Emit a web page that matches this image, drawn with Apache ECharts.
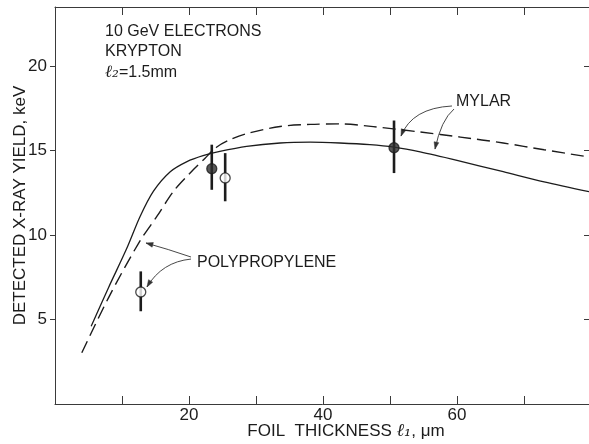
<!DOCTYPE html>
<html>
<head>
<meta charset="utf-8">
<script src="https://cdn.jsdelivr.net/npm/echarts@6/dist/echarts.min.js"></script>
<style>
  html, body { margin: 0; padding: 0; background: #ffffff; }
  #chart { width: 589px; height: 444px; }
</style>
</head>
<body>
<div id="chart"></div>
<script>
// Theoretical curves: detected X-ray yield (keV) vs foil thickness l1 (um)
const mylarCurveX = [5.4, 8.0, 10.7, 12.7, 14.7, 17.2, 19.7, 22.1, 24.6, 28.6, 33.6, 38.1, 42.5, 47.0, 50.6, 54.5, 60.0, 66.9, 73.0, 79.7];
const mylarCurveY = [4.6, 6.9, 9.2, 11.1, 12.6, 13.75, 14.35, 14.7, 14.95, 15.25, 15.45, 15.5, 15.45, 15.35, 15.2, 14.92, 14.42, 13.75, 13.15, 12.57];

const polyCurveX = [4.0, 8.0, 12.6, 15.2, 17.7, 20.1, 22.4, 24.1, 26.1, 28.6, 33.6, 38.1, 42.5, 47.5, 54.5, 60.5, 66.9, 73.0, 79.7];
const polyCurveY = [3.03, 6.3, 9.6, 11.1, 12.6, 13.65, 14.55, 15.2, 15.64, 16.0, 16.43, 16.55, 16.58, 16.42, 16.1, 15.8, 15.45, 15.05, 14.62];

// Measured points with error bars
const mylarPointX = [23.4, 50.6];
const mylarPointY = [13.93, 15.17];
const mylarErrLow = [12.68, 13.67];
const mylarErrHigh = [15.35, 16.78];

const polyPointX = [12.8, 25.4];
const polyPointY = [6.63, 13.38];
const polyErrLow = [5.49, 12.0];
const polyErrHigh = [7.85, 14.85];

// Axis ticks and labels
const xTickValues = [10, 20, 30, 40, 50, 60, 70];
const xLabelValues = [20, 40, 60];
const yTickValues = [5, 10, 15, 20];

const FONT = 'Liberation Sans, Arial, sans-serif';
const INK = '#1c1c1c';

const zip = (xs, ys) => xs.map((x, i) => [x, ys[i]]);
const errRows = (xs, lo, hi) => xs.map((x, i) => [x, lo[i], hi[i]]);

function renderErrorBar(params, api) {
  const x = api.value(0);
  const p1 = api.coord([x, api.value(1)]);
  const p2 = api.coord([x, api.value(2)]);
  return {
    type: 'line',
    shape: { x1: p1[0], y1: p1[1], x2: p2[0], y2: p2[1] },
    style: { stroke: INK, lineWidth: 2.6 }
  };
}

const chart = echarts.init(document.getElementById('chart'), null, { renderer: 'canvas' });

const axisLine = { show: true, onZero: false, lineStyle: { color: '#3a3a3a', width: 1 } };
const tickStyle = { color: '#3a3a3a', width: 1 };

const option = {
  backgroundColor: '#ffffff',
  animation: false,
  grid: { left: 55, top: 7, width: 536, height: 397, containLabel: false, outerBoundsMode: 'none' },
  xAxis: [
    {
      type: 'value', min: 0, max: 80, interval: 10, position: 'bottom',
      axisLine: axisLine,
      axisTick: { show: true, inside: true, length: 8, customValues: xTickValues, lineStyle: tickStyle },
      axisLabel: {
        customValues: xLabelValues,
        formatter: v => (xLabelValues.includes(v) ? String(v) : ''),
        fontSize: 17, color: INK, fontFamily: FONT, margin: 3
      },
      splitLine: { show: false },
      name: 'FOIL  THICKNESS {l|ℓ₁}, μm',
      nameLocation: 'middle',
      nameGap: 18,
      nameMoveOverlap: false,
      nameTextStyle: {
        fontSize: 17, color: INK, fontFamily: FONT, padding: [0, 0, 0, 46],
        rich: { l: { fontSize: 18, fontFamily: 'DejaVu Serif', fontStyle: 'italic', color: INK } }
      }
    },
    {
      type: 'value', min: 0, max: 80, interval: 10, position: 'top',
      axisLine: axisLine,
      axisTick: { show: true, inside: true, length: 8, customValues: xTickValues, lineStyle: tickStyle },
      axisLabel: { show: false },
      splitLine: { show: false }
    }
  ],
  yAxis: [
    {
      type: 'value', min: 0, max: 23.5, interval: 5, position: 'left',
      axisLine: axisLine,
      axisTick: { show: true, inside: false, length: 5, customValues: yTickValues, lineStyle: tickStyle },
      axisLabel: {
        customValues: yTickValues,
        formatter: v => (yTickValues.includes(v) ? String(v) : ''),
        fontSize: 17, color: INK, fontFamily: FONT, margin: 8
      },
      splitLine: { show: false },
      name: 'DETECTED X-RAY YIELD, keV',
      nameLocation: 'middle',
      nameRotate: 90,
      nameGap: 26,
      nameMoveOverlap: false,
      nameTextStyle: { fontSize: 17, color: INK, fontFamily: FONT }
    },
    {
      type: 'value', min: 0, max: 23.5, interval: 5, position: 'right',
      axisLine: axisLine,
      axisTick: { show: true, inside: true, length: 7, customValues: yTickValues, lineStyle: tickStyle },
      axisLabel: { show: false },
      splitLine: { show: false }
    }
  ],
  series: [
    {
      name: 'Mylar (theory)', type: 'line', xAxisIndex: 0, yAxisIndex: 0,
      data: zip(mylarCurveX, mylarCurveY), smooth: 0.3, showSymbol: false,
      lineStyle: { color: INK, width: 1.3, type: 'solid' }, z: 2
    },
    {
      name: 'Polypropylene (theory)', type: 'line', xAxisIndex: 0, yAxisIndex: 0,
      data: zip(polyCurveX, polyCurveY), smooth: 0.3, showSymbol: false,
      lineStyle: { color: INK, width: 1.4, type: [13, 6] }, z: 2
    },
    {
      name: 'Mylar error', type: 'custom', xAxisIndex: 0, yAxisIndex: 0,
      data: errRows(mylarPointX, mylarErrLow, mylarErrHigh),
      encode: { x: 0, y: [1, 2] }, renderItem: renderErrorBar, z: 3
    },
    {
      name: 'Polypropylene error', type: 'custom', xAxisIndex: 0, yAxisIndex: 0,
      data: errRows(polyPointX, polyErrLow, polyErrHigh),
      encode: { x: 0, y: [1, 2] }, renderItem: renderErrorBar, z: 3
    },
    {
      name: 'Mylar data', type: 'scatter', xAxisIndex: 0, yAxisIndex: 0,
      data: zip(mylarPointX, mylarPointY), symbol: 'circle', symbolSize: 10,
      itemStyle: { color: '#2e2e2e', borderColor: INK, borderWidth: 1.3 }, z: 4
    },
    {
      name: 'Polypropylene data', type: 'scatter', xAxisIndex: 0, yAxisIndex: 0,
      data: zip(polyPointX, polyPointY), symbol: 'circle', symbolSize: 10,
      itemStyle: { color: '#ffffff', borderColor: INK, borderWidth: 1.3 }, z: 4
    }
  ]
};

chart.setOption(option);

// Labels and pointer arrows, placed in data units
const labels = [
  { text: 'MYLAR', at: [59.85, 17.88] },
  { text: 'POLYPROPYLENE', at: [21.19, 8.35] }
];
const arrows = [
  { from: [59.25, 17.64], ctrl: [53.28, 17.52], to: [51.64, 15.86] },
  { from: [59.55, 17.46], ctrl: [57.61, 16.81], to: [56.72, 15.09] },
  { from: [20.30, 8.70], ctrl: [16.87, 9.17], to: [13.58, 9.53] },
  { from: [20.30, 8.58], ctrl: [15.97, 8.41], to: [13.73, 6.93] }
];

const px = p => chart.convertToPixel({ gridIndex: 0 }, p);
const graphics = [];

// Legend block in the upper-left corner
graphics.push({
  type: 'text', left: 105, top: 21,
  style: {
    text: '10 GeV ELECTRONS\nKRYPTON\n{l|ℓ₂}=1.5mm',
    fill: INK, font: '16px ' + FONT, lineHeight: 20.5,
    rich: { l: { fontSize: 17, fontFamily: 'DejaVu Serif', fontStyle: 'italic', fill: INK, lineHeight: 20.5 } }
  }
});

labels.forEach(l => {
  const p = px(l.at);
  graphics.push({
    type: 'text', x: p[0], y: p[1],
    style: { text: l.text, fill: INK, font: '16px ' + FONT, textAlign: 'left', textVerticalAlign: 'middle' }
  });
});

arrows.forEach(a => {
  const s = px(a.from), c = px(a.ctrl), e = px(a.to);
  graphics.push({
    type: 'bezierCurve',
    shape: { x1: s[0], y1: s[1], cpx1: c[0], cpy1: c[1], x2: e[0], y2: e[1] },
    style: { stroke: '#333', lineWidth: 0.9, fill: null }
  });
  const ang = Math.atan2(e[1] - c[1], e[0] - c[0]);
  const len = 7, half = 2.4;
  const bx = e[0] - len * Math.cos(ang), by = e[1] - len * Math.sin(ang);
  const nx = -Math.sin(ang) * half, ny = Math.cos(ang) * half;
  graphics.push({
    type: 'polygon',
    shape: { points: [[e[0], e[1]], [bx + nx, by + ny], [bx - nx, by - ny]] },
    style: { fill: '#333', stroke: '#333', lineWidth: 0.5 }
  });
});

chart.setOption({ graphic: graphics });
</script>
</body>
</html>
